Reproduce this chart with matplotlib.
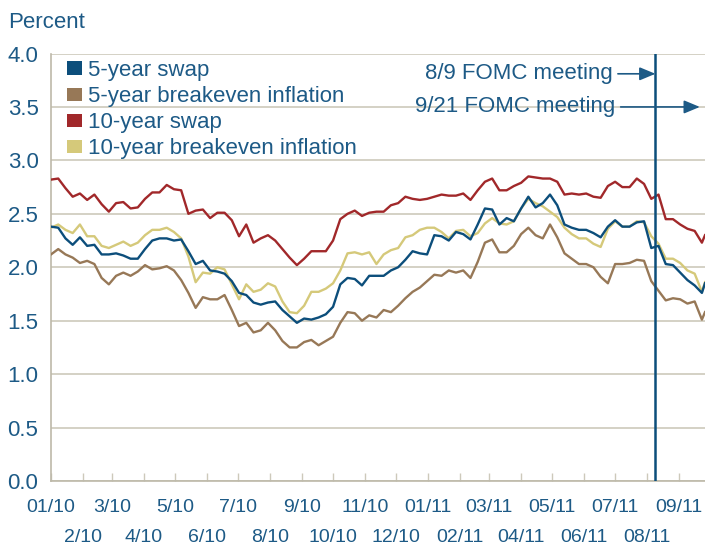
import matplotlib
matplotlib.use("Agg")
import matplotlib.pyplot as plt
import matplotlib.transforms as mtransforms
from matplotlib.patches import Patch
import pandas as pd

plt.rcParams['font.family'] = ['Liberation Sans', 'DejaVu Sans']

# Weekly observations (Fridays) Jan 2010 - Sep 2011, plus the last available day
dates = pd.date_range('2010-01-01', '2011-09-23', freq='7D').append(
    pd.DatetimeIndex(['2011-09-26']))

swap_10y = [2.82, 2.83, 2.74, 2.66, 2.69, 2.63, 2.68, 2.59, 2.52, 2.60,
            2.61, 2.55, 2.56, 2.64, 2.70, 2.70, 2.77, 2.73, 2.72, 2.50,
            2.53, 2.54, 2.46, 2.51, 2.51, 2.44, 2.29, 2.40, 2.23, 2.27,
            2.30, 2.25, 2.17, 2.09, 2.02, 2.08, 2.15, 2.15, 2.15, 2.25,
            2.45, 2.50, 2.53, 2.48, 2.51, 2.52, 2.52, 2.58, 2.60, 2.66,
            2.64, 2.63, 2.64, 2.66, 2.68, 2.67, 2.67, 2.69, 2.63, 2.72,
            2.80, 2.83, 2.72, 2.72, 2.76, 2.79, 2.85, 2.84, 2.83, 2.83,
            2.80, 2.68, 2.69, 2.68, 2.69, 2.66, 2.65, 2.76, 2.80, 2.75,
            2.75, 2.83, 2.78, 2.64, 2.68, 2.45, 2.45, 2.40, 2.36, 2.34,
            2.23, 2.30]

swap_5y = [2.38, 2.37, 2.27, 2.21, 2.28, 2.20, 2.21, 2.12, 2.12, 2.13,
           2.11, 2.08, 2.08, 2.17, 2.25, 2.27, 2.27, 2.25, 2.26, 2.15,
           2.03, 2.06, 1.97, 1.96, 1.94, 1.87, 1.76, 1.74, 1.67, 1.65,
           1.67, 1.68, 1.60, 1.54, 1.48, 1.52, 1.51, 1.53, 1.56, 1.63,
           1.84, 1.90, 1.89, 1.83, 1.92, 1.92, 1.92, 1.97, 2.00, 2.07,
           2.15, 2.13, 2.12, 2.30, 2.29, 2.25, 2.33, 2.31, 2.26, 2.40,
           2.55, 2.54, 2.40, 2.46, 2.43, 2.55, 2.66, 2.56, 2.60, 2.68,
           2.58, 2.40, 2.37, 2.35, 2.35, 2.32, 2.28, 2.38, 2.44, 2.38,
           2.38, 2.42, 2.43, 2.18, 2.20, 2.03, 2.02, 1.95, 1.88, 1.83,
           1.76, 1.85]

breakeven_10y = [2.37, 2.40, 2.35, 2.32, 2.40, 2.29, 2.29, 2.20, 2.18, 2.21,
                 2.24, 2.20, 2.23, 2.30, 2.35, 2.35, 2.37, 2.33, 2.27, 2.10,
                 1.86, 1.95, 1.94, 2.00, 1.98, 1.84, 1.70, 1.84, 1.77, 1.79,
                 1.85, 1.82, 1.68, 1.58, 1.57, 1.64, 1.77, 1.77, 1.80, 1.85,
                 1.97, 2.13, 2.14, 2.12, 2.14, 2.03, 2.12, 2.16, 2.18, 2.28,
                 2.30, 2.35, 2.37, 2.37, 2.33, 2.27, 2.34, 2.35, 2.29, 2.32,
                 2.41, 2.46, 2.41, 2.40, 2.43, 2.55, 2.64, 2.60, 2.57, 2.52,
                 2.47, 2.37, 2.31, 2.27, 2.27, 2.22, 2.19, 2.36, 2.43, 2.38,
                 2.38, 2.43, 2.42, 2.29, 2.22, 2.08, 2.08, 2.04, 1.97, 1.94,
                 1.77, 1.86]

breakeven_5y = [2.12, 2.17, 2.12, 2.09, 2.04, 2.06, 2.03, 1.90, 1.84, 1.92,
                1.95, 1.92, 1.96, 2.02, 1.98, 1.99, 2.01, 1.97, 1.88, 1.76,
                1.62, 1.72, 1.70, 1.70, 1.74, 1.60, 1.45, 1.48, 1.39, 1.41,
                1.48, 1.41, 1.31, 1.25, 1.25, 1.30, 1.32, 1.27, 1.31, 1.35,
                1.48, 1.58, 1.57, 1.50, 1.55, 1.53, 1.60, 1.58, 1.64, 1.71,
                1.77, 1.81, 1.87, 1.93, 1.92, 1.97, 1.95, 1.97, 1.90, 2.05,
                2.23, 2.26, 2.14, 2.14, 2.20, 2.31, 2.37, 2.30, 2.27, 2.40,
                2.28, 2.13, 2.08, 2.03, 2.03, 2.00, 1.91, 1.85, 2.03, 2.03,
                2.04, 2.07, 2.06, 1.87, 1.78, 1.69, 1.71, 1.70, 1.66, 1.68,
                1.51, 1.58]

series_names = ['5-year swap', '5-year breakeven inflation',
                '10-year swap', '10-year breakeven inflation']

month_labels = ['01/10', '2/10', '3/10', '4/10', '5/10', '6/10', '7/10',
                '8/10', '9/10', '10/10', '11/10', '12/10', '01/11', '02/11',
                '03/11', '04/11', '05/11', '06/11', '07/11', '08/11', '09/11']

fomc_aug = pd.Timestamp('2011-08-09')
fomc_sep = pd.Timestamp('2011-09-21')

TEXT = '#1d5a86'
GRID = '#cdc9bb'
C_SWAP5 = '#0c4e7b'
C_BE5 = '#977857'
C_SWAP10 = '#a1282a'
C_BE10 = '#d5c97a'

fig = plt.figure(figsize=(7.05, 5.46), dpi=100)
ax = fig.add_axes([51 / 705, 1 - 481 / 546, 1 - 51 / 705, (481 - 53.5) / 546])

ax.plot(dates, swap_10y, color=C_SWAP10, lw=1.7, zorder=3)
ax.plot(dates, breakeven_5y, color=C_BE5, lw=1.7, zorder=3)
ax.plot(dates, breakeven_10y, color=C_BE10, lw=1.7, zorder=3)
ax.plot(dates, swap_5y, color=C_SWAP5, lw=1.7, zorder=4)

ax.set_ylim(0, 4.0)
ax.set_xlim(pd.Timestamp('2010-01-01'), pd.Timestamp('2011-09-26'))

ax.set_yticks([i * 0.5 for i in range(9)])
ax.set_yticklabels([f'{i * 0.5:.1f}' for i in range(9)])
ax.tick_params(axis='y', length=0, pad=9, labelsize=16, labelcolor=TEXT)
ax.yaxis.grid(True, color=GRID, lw=1.2)
ax.set_axisbelow(True)

ticks = pd.date_range('2010-01-01', '2011-09-01', freq='MS')
ax.set_xticks(ticks)
ax.set_xticklabels([])
ax.tick_params(axis='x', direction='in', length=6, width=1, color=GRID)

for s in ['top', 'right']:
    ax.spines[s].set_visible(False)
for s in ['left', 'bottom']:
    ax.spines[s].set_color('#bdb9a9')
    ax.spines[s].set_linewidth(1.2)

# Month labels staggered on two rows
trans = mtransforms.blended_transform_factory(ax.transData, ax.transAxes)
for i, (d, lab) in enumerate(zip(ticks, month_labels)):
    off = -27 if i % 2 == 0 else -57
    t = trans + mtransforms.ScaledTranslation(0, off / 100, fig.dpi_scale_trans)
    ax.text(d, 0, lab, transform=t, ha='center', va='center',
            fontsize=14, color=TEXT, clip_on=False)

fig.text(8 / 705, 1 - 23 / 546, 'Percent', ha='left', va='center',
         fontsize=16, color=TEXT)

handles = [Patch(facecolor=c, edgecolor='none') for c in
           [C_SWAP5, C_BE5, C_SWAP10, C_BE10]]
leg = fig.legend(handles, series_names, loc='upper left',
                 bbox_to_anchor=(67 / 705, 1 - 60 / 546), frameon=False,
                 fontsize=16, handlelength=0.68, handleheight=0.55,
                 handletextpad=0.28, labelspacing=0.23, borderpad=0,
                 borderaxespad=0)
for t in leg.get_texts():
    t.set_color(TEXT)

# FOMC meeting markers
ax.axvline(fomc_aug, color=C_SWAP5, lw=1.8, zorder=5)
arrow = dict(arrowstyle='-|>,head_length=0.6,head_width=0.25',
             color=TEXT, lw=1.2, shrinkA=2, shrinkB=0)
ax.annotate('8/9 FOMC meeting', xy=(fomc_aug, 3.81), xytext=(-31, 0),
            textcoords='offset points', ha='right', va='center',
            fontsize=16, color=TEXT, arrowprops=arrow, zorder=6)
ax.annotate('9/21 FOMC meeting', xy=(fomc_sep, 3.50), xytext=(-61, 0),
            textcoords='offset points', ha='right', va='center',
            fontsize=16, color=TEXT, arrowprops=arrow, zorder=6,
            annotation_clip=False)

fig.savefig('out.png', dpi=100)
